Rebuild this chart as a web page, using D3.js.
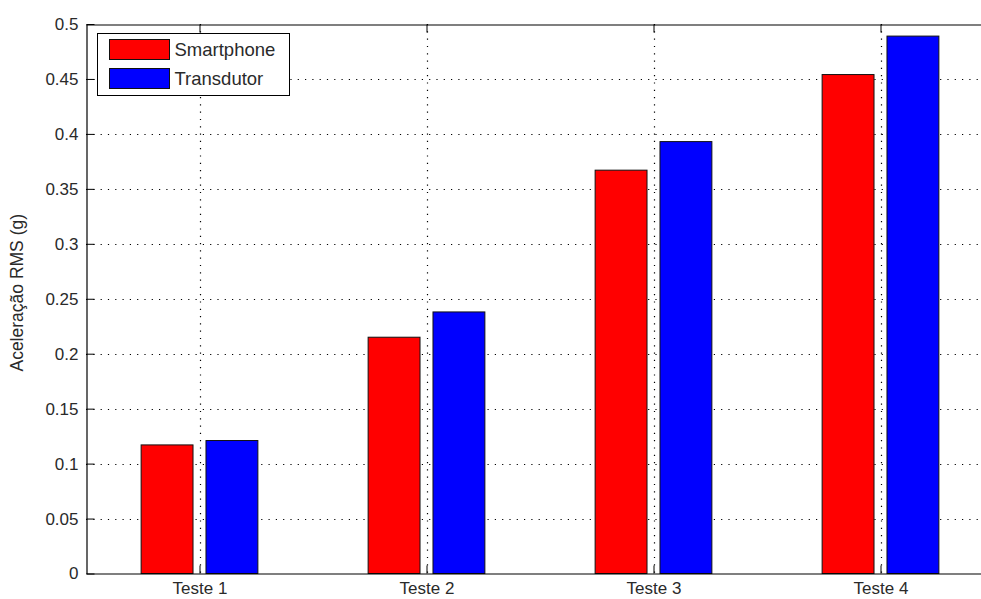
<!DOCTYPE html>
<html>
<head>
<meta charset="utf-8">
<script src="https://cdn.jsdelivr.net/npm/d3@7"></script>
<style>
  html, body { margin: 0; padding: 0; background: #fff; }
  svg { display: block; font-family: "Liberation Sans", Arial, sans-serif; }
</style>
</head>
<body>
<svg id="chart" width="981" height="599"></svg>
<script>
// Test categories and RMS acceleration per sensor (g)
const categories = ["Teste 1", "Teste 2", "Teste 3", "Teste 4"];
const seriesNames = ["Smartphone", "Transdutor"];
const smartphone = [0.117, 0.215, 0.367, 0.454];
const transdutor = [0.121, 0.238, 0.393, 0.489];
const yTicks = [0, 0.05, 0.1, 0.15, 0.2, 0.25, 0.3, 0.35, 0.4, 0.45, 0.5];
const colors = ["#ff0000", "#0000ff"];

const series = [smartphone, transdutor];

const svg = d3.select("#chart");
const plotLeft = 86, plotRight = 994, plotTop = 24, plotBottom = 573.5;

// numeric x positions 1..n, with half-unit padding like a grouped bar plot
const x = d3.scaleLinear().domain([0.5, categories.length + 0.5]).range([plotLeft, plotRight]);
const y = d3.scaleLinear().domain([0, 0.5]).range([plotBottom, plotTop]);

const groupWidth = Math.min(0.8, series.length / (series.length + 1.5));
const slot = groupWidth / series.length;
const barW = slot * 0.8;

// dotted grid
const grid = svg.append("g").attr("stroke", "#000").attr("stroke-width", 1.2)
  .attr("stroke-dasharray", "1.2,6.1");
grid.selectAll("line.h").data(yTicks.filter(t => t > 0 && t < 0.5)).join("line")
  .attr("x1", plotLeft).attr("x2", plotRight)
  .attr("y1", d => Math.round(y(d)) + 0.5).attr("y2", d => Math.round(y(d)) + 0.5);
grid.selectAll("line.v").data(categories).join("line")
  .attr("x1", (d, i) => Math.round(x(i + 1)) + 0.5).attr("x2", (d, i) => Math.round(x(i + 1)) + 0.5)
  .attr("y1", plotTop).attr("y2", plotBottom);

// bars
series.forEach((vals, s) => {
  const offset = (s - (series.length - 1) / 2) * slot;
  svg.append("g").selectAll("rect").data(vals).join("rect")
    .attr("x", (d, i) => x(i + 1 + offset - barW / 2))
    .attr("width", x(barW) - x(0))
    .attr("y", d => y(d))
    .attr("height", d => y(0) - y(d))
    .attr("fill", colors[s])
    .attr("stroke", "#111")
    .attr("stroke-width", 1);
});

// axes box: left, bottom, top
const axisG = svg.append("g");
const yAxis = d3.axisLeft(y).tickValues(yTicks).tickFormat(d => String(+d.toFixed(2)))
  .tickSizeInner(-8).tickSizeOuter(0).tickPadding(8);
axisG.append("g").attr("transform", `translate(${plotLeft + 0.5},0)`).call(yAxis);

const xAxis = d3.axisBottom(x).tickValues(d3.range(1, categories.length + 1))
  .tickFormat(d => categories[d - 1]).tickSizeInner(-8).tickSizeOuter(0).tickPadding(8);
axisG.append("g").attr("transform", `translate(0,${plotBottom})`).call(xAxis);

const xTop = d3.axisTop(x).tickValues(d3.range(1, categories.length + 1))
  .tickFormat("").tickSizeInner(-8).tickSizeOuter(0);
axisG.append("g").attr("transform", `translate(0,${plotTop + 0.5})`).call(xTop);

axisG.selectAll(".domain").attr("stroke", "#000").attr("stroke-width", 1.2);
axisG.selectAll(".tick line").attr("stroke", "#000");
axisG.selectAll(".tick text").attr("font-size", 17).attr("fill", "#2a2a2a")
  .attr("font-family", "Liberation Sans, Arial, sans-serif");

// y label
svg.append("text")
  .attr("transform", `translate(23,${(plotTop + plotBottom) / 2 - 6}) rotate(-90)`)
  .attr("text-anchor", "middle")
  .attr("font-size", 17.5).attr("fill", "#2a2a2a")
  .text("Aceleração RMS (g)");

// legend
const lg = svg.append("g").attr("transform", "translate(97.5,33.5)");
lg.append("rect").attr("width", 192).attr("height", 62)
  .attr("fill", "#fff").attr("stroke", "#000").attr("stroke-width", 1);
seriesNames.forEach((name, i) => {
  lg.append("rect").attr("x", 12).attr("y", 6 + i * 29).attr("width", 60).attr("height", 20)
    .attr("fill", colors[i]).attr("stroke", "#111");
  lg.append("text").attr("x", 77).attr("y", 16 + i * 29).attr("dy", "0.36em")
    .attr("font-size", 18.5).attr("fill", "#2a2a2a").text(name);
});
</script>
</body>
</html>
